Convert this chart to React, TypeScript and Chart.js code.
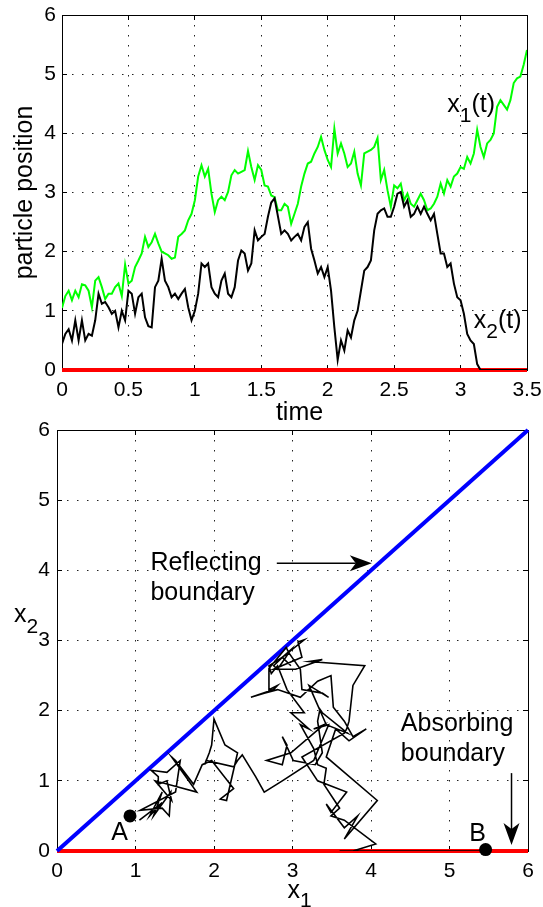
import React, { useEffect, useRef } from 'react';
import { Chart, registerables } from 'chart.js';

Chart.register(...registerables);

// ---------- data ----------
const DT = 0.025; // sampling step of the time series
// x1(t), green particle
const X1 = [
  1.05, 1.25, 1.34, 1.18, 1.34, 1.23, 1.45, 1.43, 1.34, 1.06,
  1.51, 1.57, 1.40, 1.20, 1.29, 1.29, 1.40, 1.46, 1.25, 1.78,
  1.46, 1.51, 1.74, 1.85, 1.97, 2.25, 2.08, 2.16, 2.30, 2.14,
  2.00, 1.97, 1.94, 1.88, 1.90, 2.25, 2.30, 2.36, 2.53, 2.64,
  2.87, 3.27, 3.46, 3.27, 3.40, 2.98, 2.67, 2.87, 2.93, 2.87,
  3.01, 3.29, 3.38, 3.32, 3.35, 3.38, 3.70, 3.43, 3.21, 3.46,
  3.38, 3.12, 3.10, 2.95, 2.92, 2.70, 2.70, 2.81, 2.76, 2.47,
  2.64, 2.81, 3.10, 3.32, 3.49, 3.52, 3.66, 3.77, 3.94, 3.72,
  3.55, 3.43, 4.08, 3.66, 3.83, 3.66, 3.43, 3.49, 3.69, 3.32,
  3.12, 3.66, 3.69, 3.72, 3.77, 3.92, 3.21, 3.38, 3.04, 2.76,
  3.12, 3.07, 3.15, 2.87, 2.98, 2.81, 2.76, 2.87, 2.98, 2.87,
  2.70, 2.73, 2.81, 2.93, 3.15, 2.98, 3.21, 3.10, 3.27, 3.32,
  3.43, 3.40, 3.60, 3.49, 3.66, 4.06, 3.77, 3.60, 3.83, 3.89,
  4.00, 4.45, 4.56, 4.48, 4.40, 4.56, 4.85, 4.93, 4.96, 5.16,
  5.41,
];
// x2(t), black particle
const X2 = [
  0.44, 0.61, 0.69, 0.50, 0.84, 0.50, 0.84, 0.50, 0.61, 0.58,
  0.84, 1.29, 1.12, 1.15, 1.06, 0.95, 1.00, 0.72, 1.00, 0.84,
  1.34, 1.29, 0.95, 1.23, 1.29, 0.89, 0.74, 0.72, 1.40, 1.51,
  1.88, 1.51, 1.40, 1.23, 1.29, 1.20, 1.29, 1.37, 1.06, 0.84,
  1.00, 1.29, 1.80, 1.74, 1.80, 1.40, 1.29, 1.23, 1.51, 1.63,
  1.29, 1.23, 1.40, 1.85, 2.02, 1.97, 1.68, 1.80, 2.36, 2.19,
  2.25, 2.30, 2.59, 2.83, 2.90, 2.60, 2.30, 2.36, 2.30, 2.19,
  2.25, 2.30, 2.19, 2.42, 2.50, 2.05, 1.85, 1.63, 1.74, 1.57,
  1.74, 1.34, 0.72, 0.17, 0.50, 0.33, 0.67, 0.55, 0.84, 1.00,
  1.34, 1.68, 1.74, 1.85, 2.36, 2.64, 2.70, 2.73, 2.59, 2.59,
  2.76, 2.98, 3.01, 2.76, 2.87, 2.59, 2.64, 2.76, 2.64, 2.76,
  2.64, 2.53, 2.64, 2.30, 1.97, 1.97, 1.74, 1.80, 1.46, 1.23,
  1.18, 0.95, 0.61, 0.50, 0.44, 0.10, 0.00, 0.00, 0.00, 0.00,
  0.00, 0.00, 0.00, 0.00, 0.00, 0.00, 0.00, 0.00, 0.00, 0.00,
  0.00,
];
const TIME_TICKS = [0, 0.5, 1, 1.5, 2, 2.5, 3, 3.5];
const POS_TICKS = [0, 1, 2, 3, 4, 5, 6];
const PLANE_TICKS = [0, 1, 2, 3, 4, 5, 6];
const POINT_A = [0.93, 0.5];
const POINT_B = [5.46, 0.02];
const REFLECT_LINE = [[0, 0], [6, 6]];
const ABSORB_TOP = [[0, 0], [3.5, 0]];
const ABSORB_BOTTOM = [[0, 0], [6, 0]];

// annotation anchors (data units)
const LBL_X1T = [2.9, 4.36];
const LBL_X2T = [3.1, 0.71];
const LBL_A = [0.69, 0.157];
const LBL_B = [5.25, 0.14];
const LBL_REFLECT = [1.19, 4.01];
const ARROW_REFLECT = [[2.8, 4.1], [4.01, 4.1]];
const LBL_ABSORB = [4.38, 1.71];
const ARROW_ABSORB = [[5.79, 1.11], [5.79, 0.085]];

const FONT = '"Liberation Sans", Arial, Helvetica, sans-serif';
const W = 543;
const H = 907;

function drawRich(ctx: any, x: number, y: number, parts: any[]) {
  let cx = x;
  for (const [t, size, dy] of parts) {
    ctx.font = `${size}px ${FONT}`;
    ctx.fillText(t, cx, y + dy);
    cx += ctx.measureText(t).width;
  }
  return cx - x;
}
function richWidth(ctx: any, parts: any[]) {
  let w = 0;
  for (const [t, size] of parts) {
    ctx.font = `${size}px ${FONT}`;
    w += ctx.measureText(t).width;
  }
  return w;
}
function drawArrow(ctx: any, x0: number, y0: number, x1: number, y1: number) {
  const ang = Math.atan2(y1 - y0, x1 - x0);
  const c = Math.cos(ang), s = Math.sin(ang);
  const L = 22, HW = 8, back = 6;
  ctx.save();
  ctx.strokeStyle = '#000';
  ctx.fillStyle = '#000';
  ctx.lineWidth = 1.5;
  ctx.beginPath();
  ctx.moveTo(x0, y0);
  ctx.lineTo(x1 - (L - back) * c, y1 - (L - back) * s);
  ctx.stroke();
  const bx = x1 - L * c, by = y1 - L * s;
  ctx.beginPath();
  ctx.moveTo(x1, y1);
  ctx.lineTo(bx - HW * s, by + HW * c);
  ctx.lineTo(x1 - (L - back) * c, y1 - (L - back) * s);
  ctx.lineTo(bx + HW * s, by - HW * c);
  ctx.closePath();
  ctx.fill();
  ctx.restore();
}

const framePlugin = {
  id: 'frame',
  beforeDatasetsDraw(chart: any) {
    const { ctx, chartArea } = chart;
    const { left, right, top, bottom } = chartArea;
    const a = (v: number) => Math.floor(v) + 0.5;
    ctx.save();
    ctx.strokeStyle = '#000';
    ctx.lineWidth = 1;
    ctx.strokeRect(a(left), a(top), a(right) - a(left), a(bottom) - a(top));
    const xs = chart.scales.x, ys = chart.scales.y;
    ctx.beginPath();
    for (const t of xs.ticks) {
      const p = a(xs.getPixelForValue(t.value));
      ctx.moveTo(p, bottom); ctx.lineTo(p, bottom - 5);
      ctx.moveTo(p, top); ctx.lineTo(p, top + 5);
    }
    for (const t of ys.ticks) {
      const p = a(ys.getPixelForValue(t.value));
      ctx.moveTo(left, p); ctx.lineTo(left + 5, p);
      ctx.moveTo(right, p); ctx.lineTo(right - 5, p);
    }
    ctx.stroke();
    ctx.restore();
  },
};

const topTextPlugin = {
  id: 'topText',
  afterDraw(chart: any) {
    const { ctx, chartArea } = chart;
    const { left, right, top, bottom } = chartArea;
    const xs = chart.scales.x, ys = chart.scales.y;
    ctx.save();
    ctx.fillStyle = '#000';
    ctx.textBaseline = 'alphabetic';
    ctx.textAlign = 'left';
    drawRich(ctx, xs.getPixelForValue(LBL_X1T[0]), ys.getPixelForValue(LBL_X1T[1]), [['x', 25, 0], ['1', 21, 10], ['(t)', 25, 0]]);
    drawRich(ctx, xs.getPixelForValue(LBL_X2T[0]), ys.getPixelForValue(LBL_X2T[1]), [['x', 25, 0], ['2', 21, 10], ['(t)', 25, 0]]);
    ctx.font = `25px ${FONT}`;
    ctx.textAlign = 'center';
    ctx.fillText('time', (left + right) / 2 + 5, bottom + 50);
    ctx.translate(25, (top + bottom) / 2);
    ctx.rotate(-Math.PI / 2);
    ctx.textBaseline = 'middle';
    ctx.fillText('particle position', 0, 0);
    ctx.restore();
  },
};

const bottomTextPlugin = {
  id: 'bottomText',
  afterDraw(chart: any) {
    const { ctx, chartArea } = chart;
    const { left, right, top, bottom } = chartArea;
    const xs = chart.scales.x, ys = chart.scales.y;
    const px = (p: number[]) => [xs.getPixelForValue(p[0]), ys.getPixelForValue(p[1])];
    ctx.save();
    ctx.fillStyle = '#000';
    ctx.textBaseline = 'alphabetic';
    ctx.textAlign = 'left';
    const x1parts = [['x', 25, 0], ['1', 21, 9]];
    const w1 = richWidth(ctx, x1parts);
    drawRich(ctx, (left + right) / 2 + 7 - w1 / 2, bottom + 47, x1parts);
    drawRich(ctx, left - 43, (top + bottom) / 2 - 19, [['x', 25, 0], ['2', 21, 11]]);
    ctx.font = `25px ${FONT}`;
    let p = px(LBL_A); ctx.fillText('A', p[0], p[1]);
    p = px(LBL_B); ctx.fillText('B', p[0], p[1]);
    p = px(LBL_REFLECT);
    ctx.fillText('Reflecting', p[0], p[1]);
    ctx.fillText('boundary', p[0], p[1] + 30);
    p = px(LBL_ABSORB);
    ctx.fillText('Absorbing', p[0], p[1]);
    ctx.fillText('boundary', p[0], p[1] + 30);
    let a0 = px(ARROW_REFLECT[0]), a1 = px(ARROW_REFLECT[1]);
    drawArrow(ctx, a0[0], a0[1], a1[0], a1[1]);
    a0 = px(ARROW_ABSORB[0]); a1 = px(ARROW_ABSORB[1]);
    drawArrow(ctx, a0[0], a0[1], a1[0], a1[1]);
    ctx.restore();
  },
};

function makeScale(ticksArr: number[], width: number | null, height: number | null, pad: number) {
  return {
    type: 'linear',
    min: ticksArr[0],
    max: ticksArr[ticksArr.length - 1],
    afterBuildTicks: (s: any) => { s.ticks = ticksArr.map((v) => ({ value: v })); },
    afterFit: (s: any) => {
      if (width !== null) s.width = width;
      if (height !== null) s.height = height;
      s.paddingLeft = 0; s.paddingRight = 0; s.paddingTop = 0; s.paddingBottom = 0;
    },
    ticks: {
      autoSkip: false,
      maxRotation: 0,
      minRotation: 0,
      padding: pad,
      color: '#000',
      font: { family: FONT, size: 21 },
      callback: (v: any) => String(v),
    },
    grid: { color: '#222', lineWidth: 1, drawTicks: false },
    border: { display: false, dash: [1.5, 8.5] },
  };
}

const toXY = (arr: number[][]) => arr.map((p) => ({ x: p[0], y: p[1] }));

export default function App() {
  const topRef = useRef<HTMLCanvasElement | null>(null);
  const botRef = useRef<HTMLCanvasElement | null>(null);

  useEffect(() => {
    const series1 = X1.map((v, i) => ({ x: i * DT, y: v }));
    const series2 = X2.map((v, i) => ({ x: i * DT, y: v }));
    const path = X1.map((v, i) => ({ x: v, y: X2[i] }));

    const common = {
      animation: false,
      responsive: false,
      devicePixelRatio: 1,
      events: [],
      plugins: { legend: { display: false }, tooltip: { enabled: false } },
    };

    const topChart = new Chart(topRef.current as any, {
      type: 'scatter',
      data: {
        datasets: [
          { data: series2, showLine: true, borderColor: '#000', borderWidth: 2, pointRadius: 0, tension: 0 },
          { data: series1, showLine: true, borderColor: '#00ff00', borderWidth: 2, pointRadius: 0, tension: 0 },
          { data: toXY(ABSORB_TOP), showLine: true, borderColor: '#ff0000', borderWidth: 4, pointRadius: 0, clip: false },
        ],
      },
      options: {
        ...common,
        layout: { padding: { left: 0, right: W - 527, top: 15, bottom: H - 370 - 40 } },
        scales: {
          x: makeScale(TIME_TICKS, null, 40, 8),
          y: makeScale(POS_TICKS, 62, null, 6),
        },
      } as any,
      plugins: [framePlugin, topTextPlugin],
    } as any);

    const botChart = new Chart(botRef.current as any, {
      type: 'scatter',
      data: {
        datasets: [
          { data: toXY([POINT_A]), pointRadius: 6.5, pointBackgroundColor: '#000', pointBorderColor: '#000', pointBorderWidth: 0, showLine: false, clip: false },
          { data: toXY([POINT_B]), pointRadius: 6.5, pointBackgroundColor: '#000', pointBorderColor: '#000', pointBorderWidth: 0, showLine: false, clip: false },
          { data: path, showLine: true, borderColor: '#000', borderWidth: 1.6, pointRadius: 0, tension: 0 },
          { data: toXY(REFLECT_LINE), showLine: true, borderColor: '#0000ff', borderWidth: 4, pointRadius: 0, clip: false },
          { data: toXY(ABSORB_BOTTOM), showLine: true, borderColor: '#ff0000', borderWidth: 4, pointRadius: 0, clip: false },
        ],
      },
      options: {
        ...common,
        layout: { padding: { left: 0, right: W - 528, top: 430, bottom: H - 851 - 40 } },
        scales: {
          x: makeScale(PLANE_TICKS, null, 40, 8),
          y: makeScale(PLANE_TICKS, 57, null, 7),
        },
      } as any,
      plugins: [framePlugin, bottomTextPlugin],
    } as any);

    return () => {
      topChart.destroy();
      botChart.destroy();
    };
  }, []);

  const cstyle: any = { position: 'absolute', left: 0, top: 0, width: W, height: H };
  return (
    <div style={{ position: 'absolute', left: 0, top: 0, width: W, height: H, background: '#fff' }}>
      <canvas ref={topRef} width={W} height={H} style={cstyle} />
      <canvas ref={botRef} width={W} height={H} style={cstyle} />
    </div>
  );
}
